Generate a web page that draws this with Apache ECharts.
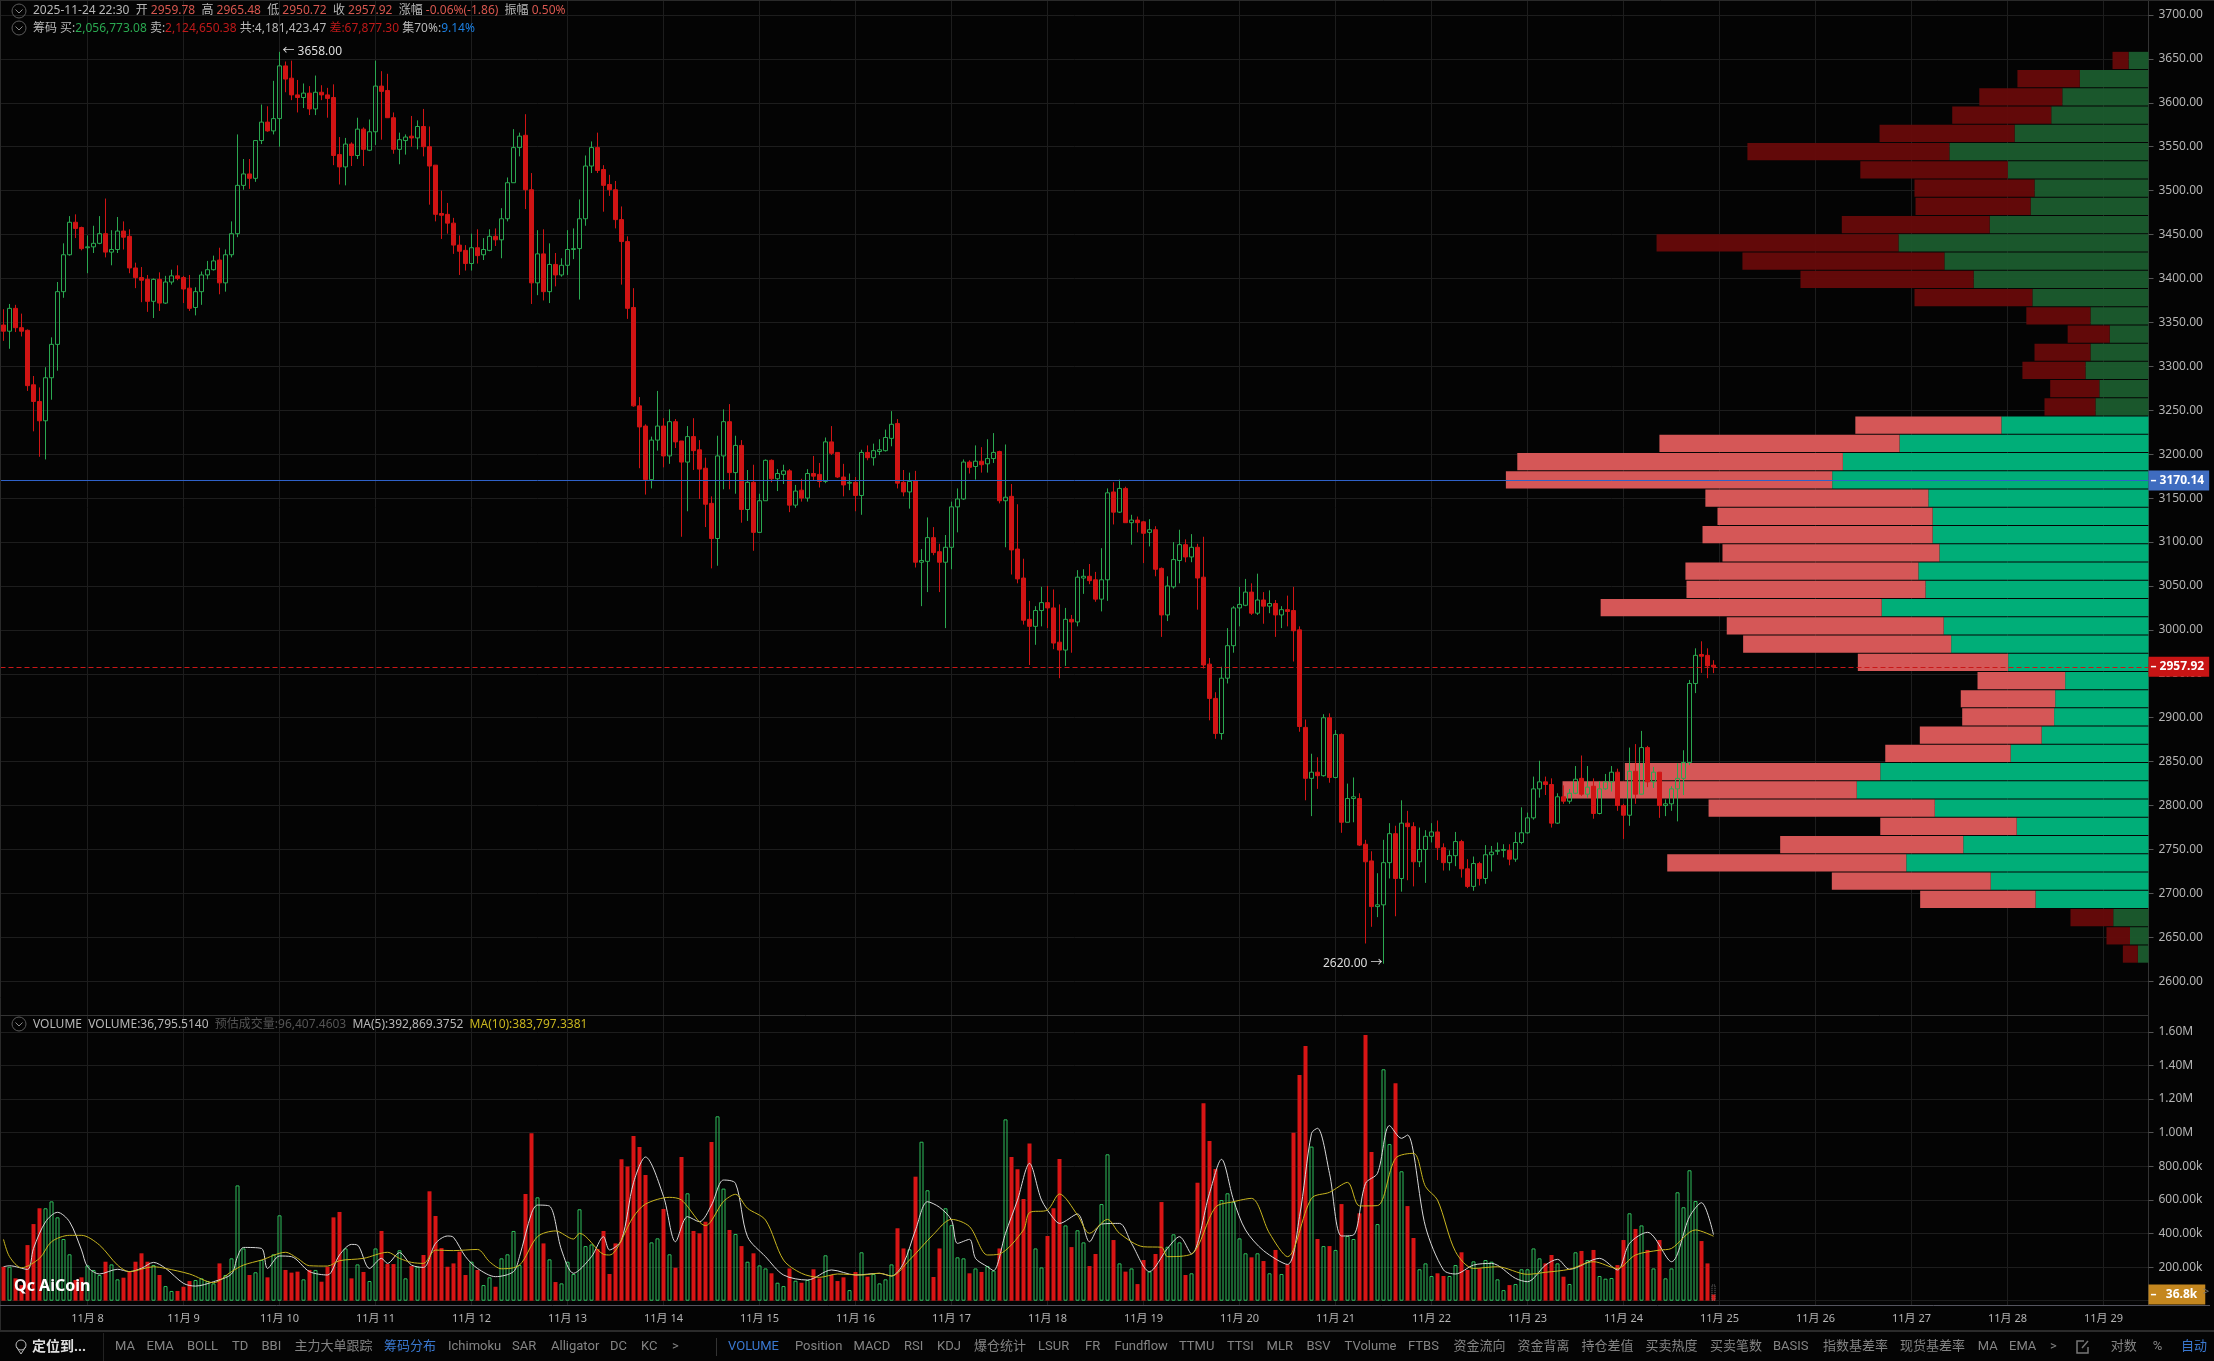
<!DOCTYPE HTML>
<html>
<head>
<meta charset="utf-8">
<title>AiCoin K线 筹码分布</title>
<script src="https://cdn.jsdelivr.net/npm/echarts@6/dist/echarts.min.js"></script>
<style>
    html, body { margin: 0; padding: 0; background: #040404; overflow: hidden; }
    #main { width: 2214px; height: 1361px; }
</style>
</head>
<body>
<div id="main"></div>
<script type="text/javascript">
// 1.5h candles, [open, close, low, high]
var candles = [
[3347,3340,3329,3365],[3340,3366,3320,3371],[3366,3344,3339,3370],[3344,3340,3334,3360],[3341,3278,3272,3342],
[3279,3260,3226,3289],[3260,3238,3197,3276],[3238,3287,3194,3299],[3287,3325,3262,3333],[3325,3385,3295,3396],
[3385,3427,3378,3440],[3427,3464,3426,3471],[3464,3457,3446,3473],[3458,3434,3432,3459],[3435,3436,3406,3449],
[3436,3440,3429,3460],[3440,3451,3439,3471],[3451,3430,3424,3491],[3430,3433,3415,3455],[3433,3454,3429,3470],
[3454,3447,3433,3465],[3448,3412,3406,3456],[3412,3401,3389,3418],[3401,3398,3373,3413],[3399,3374,3362,3404],
[3374,3399,3355,3400],[3399,3372,3363,3407],[3372,3396,3371,3403],[3396,3403,3393,3410],[3403,3400,3398,3415],
[3401,3388,3372,3403],[3389,3366,3363,3404],[3367,3385,3358,3390],[3385,3404,3370,3408],[3404,3410,3399,3420],
[3410,3420,3409,3426],[3421,3395,3382,3435],[3395,3427,3385,3433],[3427,3451,3424,3465],[3451,3506,3447,3564],
[3506,3519,3501,3536],[3519,3514,3502,3536],[3514,3557,3510,3557],[3557,3578,3553,3598],[3578,3568,3567,3596],
[3568,3582,3564,3625],[3582,3642,3550,3658],[3642,3627,3612,3647],[3628,3609,3603,3648],[3609,3606,3589,3626],
[3606,3611,3594,3622],[3611,3593,3586,3619],[3593,3612,3586,3631],[3612,3609,3603,3620],[3609,3605,3583,3617],
[3606,3540,3529,3621],[3541,3527,3507,3561],[3527,3553,3506,3560],[3553,3540,3528,3555],[3540,3570,3536,3583],
[3570,3547,3528,3572],[3546,3567,3545,3581],[3567,3619,3552,3648],[3619,3613,3558,3636],[3614,3583,3583,3633],
[3583,3547,3542,3589],[3547,3558,3530,3566],[3557,3561,3541,3564],[3562,3560,3550,3585],[3560,3573,3547,3580],
[3573,3550,3539,3593],[3550,3528,3484,3573],[3529,3473,3465,3529],[3474,3472,3445,3500],[3473,3463,3451,3486],
[3463,3438,3428,3469],[3438,3431,3404,3449],[3432,3417,3409,3438],[3417,3435,3409,3451],[3435,3426,3417,3456],
[3427,3433,3421,3446],[3432,3448,3431,3456],[3448,3444,3437,3457],[3444,3468,3423,3480],[3468,3509,3465,3515],
[3509,3549,3509,3570],[3549,3562,3539,3566],[3563,3501,3479,3587],[3501,3395,3371,3520],[3395,3428,3381,3455],
[3428,3385,3375,3456],[3385,3416,3372,3440],[3416,3404,3391,3429],[3404,3415,3402,3423],[3415,3433,3404,3455],
[3433,3434,3422,3457],[3434,3468,3376,3490],[3468,3528,3460,3540],[3528,3549,3520,3556],[3549,3523,3520,3566],
[3524,3506,3476,3529],[3507,3501,3494,3518],[3501,3467,3457,3511],[3467,3442,3393,3482],[3442,3366,3354,3448],
[3367,3255,3254,3389],[3255,3231,3184,3265],[3232,3171,3154,3234],[3171,3216,3161,3220],[3216,3232,3204,3272],
[3232,3198,3185,3241],[3198,3237,3189,3251],[3237,3214,3207,3240],[3215,3191,3106,3215],[3191,3220,3135,3232],
[3220,3204,3182,3241],[3205,3183,3149,3216],[3184,3143,3117,3196],[3144,3104,3070,3152],[3104,3198,3073,3221],
[3198,3237,3160,3251],[3237,3179,3160,3257],[3179,3210,3155,3221],[3210,3137,3122,3216],[3137,3168,3124,3182],
[3168,3111,3090,3188],[3111,3147,3111,3155],[3147,3193,3147,3194],[3193,3172,3168,3194],[3172,3178,3158,3183],
[3177,3181,3166,3188],[3181,3142,3134,3183],[3142,3158,3139,3165],[3159,3150,3146,3172],[3150,3178,3146,3183],
[3178,3175,3170,3198],[3177,3169,3162,3190],[3169,3214,3167,3219],[3214,3201,3199,3232],[3202,3174,3173,3202],
[3174,3165,3152,3189],[3167,3168,3159,3178],[3168,3153,3135,3174],[3153,3202,3131,3205],[3202,3196,3193,3210],
[3196,3204,3187,3212],[3203,3205,3199,3217],[3204,3219,3203,3228],[3218,3234,3209,3249],[3235,3167,3161,3240],
[3168,3157,3152,3182],[3157,3169,3138,3179],[3170,3077,3071,3181],[3077,3079,3027,3092],[3078,3105,3043,3128],
[3105,3088,3085,3117],[3089,3077,3043,3098],[3077,3094,3002,3108],[3094,3140,3069,3146],[3140,3149,3111,3161],
[3149,3191,3148,3194],[3191,3185,3178,3193],[3186,3192,3171,3210],[3192,3188,3179,3208],[3189,3195,3179,3217],
[3195,3202,3190,3224],[3203,3147,3144,3204],[3147,3151,3094,3211],[3152,3091,3063,3166],[3092,3058,3053,3143],
[3059,3011,3006,3081],[3012,3004,2960,3033],[3004,3022,2983,3027],[3022,3031,3004,3049],[3031,3025,3002,3050],
[3025,2985,2978,3046],[2986,2977,2945,3029],[2977,3012,2959,3025],[3012,3009,2974,3017],[3009,3060,3004,3068],
[3059,3061,3041,3069],[3061,3056,3052,3075],[3057,3035,3032,3066],[3035,3057,3021,3093],[3057,3156,3033,3161],
[3157,3134,3120,3168],[3134,3161,3133,3171],[3161,3122,3122,3163],[3122,3125,3097,3131],[3125,3122,3111,3129],
[3123,3110,3076,3124],[3111,3114,3095,3126],[3114,3069,3061,3118],[3070,3017,2992,3071],[3017,3050,3010,3061],
[3049,3080,3047,3100],[3079,3097,3053,3114],[3097,3083,3077,3103],[3083,3094,3077,3109],[3094,3059,3023,3098],
[3060,2960,2956,3106],[2961,2922,2897,2968],[2922,2882,2876,2929],[2882,2945,2875,2958],[2945,2982,2939,3002],
[2982,3025,2974,3027],[3025,3029,3004,3049],[3028,3043,3027,3058],[3043,3019,3017,3053],[3019,3034,3017,3064],
[3034,3027,3007,3043],[3027,3030,3019,3045],[3030,3017,2992,3034],[3017,3023,3002,3027],[3023,3021,3004,3039],
[3022,2999,2964,3049],[3000,2890,2884,3004],[2889,2831,2806,2898],[2831,2838,2788,2859],[2838,2834,2819,2855],
[2834,2900,2833,2904],[2900,2832,2826,2905],[2832,2881,2831,2886],[2881,2781,2769,2882],[2781,2808,2781,2825],
[2808,2810,2781,2832],[2808,2755,2754,2814],[2756,2736,2643,2761],[2737,2685,2662,2748],[2685,2687,2673,2723],
[2687,2735,2620,2761],[2735,2768,2717,2780],[2768,2717,2674,2777],[2717,2780,2702,2806],[2780,2776,2715,2794],
[2776,2736,2708,2781],[2736,2750,2730,2775],[2750,2765,2712,2772],[2765,2770,2758,2780],[2770,2752,2738,2783],
[2752,2735,2726,2757],[2735,2743,2726,2749],[2743,2759,2731,2770],[2759,2728,2718,2761],[2728,2708,2706,2739],
[2708,2734,2703,2742],[2734,2717,2709,2736],[2717,2744,2711,2755],[2744,2747,2725,2754],[2748,2749,2744,2758],
[2749,2750,2741,2756],[2749,2739,2732,2756],[2739,2758,2736,2770],[2758,2769,2756,2798],[2769,2786,2768,2792],
[2786,2819,2784,2833],[2819,2827,2809,2851],[2827,2824,2812,2833],[2824,2780,2775,2831],[2780,2810,2779,2814],
[2810,2805,2802,2823],[2805,2814,2802,2819],[2814,2830,2813,2845],[2831,2813,2811,2857],[2813,2821,2809,2845],
[2822,2791,2785,2831],[2791,2819,2790,2828],[2819,2827,2818,2836],[2827,2838,2816,2845],[2838,2800,2794,2842],
[2800,2789,2762,2802],[2789,2839,2777,2866],[2839,2813,2802,2870],[2813,2866,2813,2885],[2866,2827,2821,2868],
[2827,2838,2820,2844],[2838,2800,2786,2838],[2800,2802,2788,2807],[2802,2819,2794,2822],[2819,2831,2782,2848],
[2831,2849,2812,2863],[2849,2939,2846,2943],[2939,2971,2928,2979],[2972,2970,2951,2987],[2971,2959,2945,2979],
[2959.78,2957.92,2950.72,2965.48]
];

// volume per candle
var volumes = [
202000,202000,133000,93000,331000,456000,550000,550000,591000,496000,367000,276000,123000,139000,210000,183000,
153000,232000,216000,127000,137000,173000,232000,282000,232000,212000,153000,87000,58000,58000,83000,117000,
123000,133000,117000,103000,222000,153000,252000,686000,311000,153000,169000,242000,139000,276000,508000,183000,
167000,173000,127000,183000,183000,113000,202000,496000,528000,311000,133000,216000,171000,117000,311000,415000,
218000,218000,300000,133000,206000,202000,272000,651000,504000,313000,202000,222000,292000,153000,232000,183000,
93000,139000,83000,252000,276000,415000,212000,635000,996000,615000,341000,246000,111000,103000,232000,159000,
544000,325000,335000,308000,415000,159000,341000,841000,798000,980000,915000,748000,347000,371000,546000,276000,
196000,855000,639000,415000,401000,470000,944000,1097000,667000,421000,397000,325000,232000,282000,210000,192000,
163000,107000,87000,192000,119000,107000,123000,187000,133000,270000,153000,117000,139000,63000,171000,288000,
143000,159000,103000,127000,216000,431000,311000,306000,738000,946000,657000,141000,311000,550000,450000,258000,
252000,163000,192000,171000,206000,179000,311000,1079000,855000,782000,605000,936000,311000,198000,385000,550000,
843000,448000,319000,419000,347000,206000,278000,575000,871000,361000,222000,173000,192000,99000,242000,173000,
278000,587000,321000,395000,347000,153000,163000,702000,1175000,950000,784000,599000,639000,589000,371000,282000,
258000,282000,236000,163000,302000,159000,216000,1000000,1343000,1516000,917000,367000,325000,325000,302000,575000,
385000,367000,520000,1581000,885000,456000,1377000,932000,1294000,770000,563000,373000,187000,222000,147000,163000,
147000,147000,212000,288000,183000,234000,192000,242000,232000,127000,63000,93000,99000,187000,187000,311000,
252000,222000,272000,222000,143000,99000,288000,296000,242000,302000,147000,131000,135000,212000,361000,520000,
427000,448000,302000,192000,361000,133000,192000,645000,556000,776000,593000,355000,222000,36795.514
];
var estimatedVolume = 96407.4603;

// MA lines, [candle index, value], read at the turning points
var ma5Line = [
[0,202000],[1,208000],[4,186000],[5,311000],[7,469000],[9,526000],[11,470000],[13,302000],[14,202000],[16,159000],[19,187000],
[21,173000],[23,193000],[25,228000],[27,193000],[30,103000],[32,87000],[35,113000],[38,159000],[39,262000],[40,317000],[43,311000],
[44,192000],[46,266000],[48,262000],[51,173000],[54,153000],[56,272000],[58,335000],[59,331000],[61,192000],[63,252000],[64,222000],
[66,286000],[68,212000],[70,198000],[72,341000],[74,385000],[75,377000],[77,262000],[79,192000],[82,143000],[85,173000],[86,262000],
[88,520000],[89,569000],[91,563000],[93,302000],[95,163000],[98,262000],[100,381000],[101,302000],[103,361000],[105,702000],[107,855000],
[110,621000],[112,351000],[114,500000],[116,470000],[118,569000],[120,718000],[122,698000],[124,381000],[127,262000],[130,153000],
[134,123000],[138,183000],[142,153000],[146,163000],[148,147000],[150,222000],[152,421000],[154,589000],[156,556000],[158,480000],
[159,341000],[161,365000],[162,252000],[164,202000],[165,179000],[167,401000],[169,599000],[171,817000],[173,599000],[175,490000],
[176,460000],[179,516000],[181,351000],[183,456000],[186,460000],[188,341000],[191,173000],[194,311000],[196,381000],[198,278000],
[201,639000],[203,841000],[205,599000],[207,421000],[210,298000],[214,216000],[216,500000],[218,996000],[219,1026000],[221,758000],
[223,385000],[225,391000],[227,698000],[229,758000],[231,1042000],[233,966000],[234,986000],[237,440000],[240,183000],[242,159000],
[245,212000],[248,222000],[252,133000],[254,113000],[257,212000],[259,246000],[261,187000],[266,252000],[269,183000],[271,341000],
[274,407000],[278,232000],[281,500000],[283,583000],[285,392869]
];
var ma10Line = [
[0,365000],[1,262000],[3,196000],[6,252000],[8,351000],[11,389000],[13,389000],[16,331000],[19,212000],[21,173000],[25,202000],
[27,192000],[31,159000],[35,107000],[38,173000],[40,212000],[43,242000],[47,288000],[49,252000],[51,208000],[54,206000],[56,238000],
[60,252000],[64,288000],[66,252000],[68,228000],[70,222000],[72,301000],[75,298000],[79,305000],[81,232000],[83,190000],[86,212000],
[89,381000],[92,415000],[95,367000],[96,401000],[100,276000],[101,272000],[105,500000],[107,575000],[111,615000],[113,599000],
[117,447000],[120,590000],[122,633000],[124,550000],[127,480000],[130,242000],[133,163000],[136,139000],[139,159000],[143,153000],
[146,163000],[148,147000],[151,242000],[155,395000],[158,484000],[161,441000],[164,272000],[166,278000],[170,421000],[171,524000],
[174,540000],[176,635000],[179,510000],[181,401000],[184,484000],[186,401000],[190,321000],[193,318000],[194,262000],[198,278000],
[202,556000],[205,589000],[208,609000],[211,401000],[214,262000],[218,609000],[221,645000],[224,704000],[226,564000],[229,566000],
[232,847000],[235,877000],[237,679000],[239,599000],[242,292000],[245,192000],[249,202000],[254,157000],[257,169000],[261,187000],
[265,232000],[269,192000],[272,272000],[276,301000],[278,311000],[282,421000],[285,383797]
];

// chip distribution, lowest bin first, in thousands
var chipBuy = [
3.0,5.2,9.9,31.7,44.3,68.0,52.0,37.0,60.0,81.9,75.3,38.7,30.0,26.5,26.2,23.4,39.4,55.4,57.5,74.9,62.6,64.6,58.7,60.6,60.6,
61.8,88.8,85.8,69.9,41.3,14.9,13.8,17.7,16.3,10.9,16.3,32.6,49.1,57.3,70.2,44.6,33.1,32.0,39.5,55.9,37.6,27.3,24.2,19.3,5.6
];
var chipSell = [
4.2,6.6,12.0,32.4,44.6,67.1,51.4,38.3,63.5,82.6,71.7,35.2,34.2,25.8,26.5,24.6,42.2,58.4,60.9,78.9,67.1,65.4,60.9,64.6,60.4,
62.6,91.6,91.4,67.4,41.0,14.3,13.8,17.7,15.7,11.8,18.0,33.1,48.6,56.7,67.9,41.5,32.3,33.7,41.4,56.7,37.9,27.8,23.3,17.5,4.5
];
var chipLow = 2620;
var chipStep = 20.76;
var chipAreaFirst = 3;   // bins inside the 70% area are drawn bright
var chipAreaLast = 29;

var priceTicks = [2600,2650,2700,2750,2800,2850,2900,2950,3000,3050,3100,3150,3200,3250,3300,3350,3400,3450,3500,3550,3600,3650,3700];
var volumeTicks = [0,200000,400000,600000,800000,1000000,1200000,1400000,1600000];
var dayLabels = ['11月 8','11月 9','11月 10','11月 11','11月 12','11月 13','11月 14','11月 15','11月 16','11月 17','11月 18','11月 19',
    '11月 20','11月 21','11月 22','11月 23','11月 24','11月 25','11月 26','11月 27','11月 28','11月 29'];
var firstDaySlot = 14;
var slotsPerDay = 16;
var slotCount = 358;
var lastPrice = 2957.92;
var linePrice = 3170.14;

var indicators = ['MA','EMA','BOLL','TD','BBI','主力大单跟踪','筹码分布','Ichimoku','SAR','Alligator','DC','KC','>'];
var indicatorX = [115,146.5,187,232,261.5,294.6,384,448,512,551,610,641,672];
var subIndicators = ['VOLUME','Position','MACD','RSI','KDJ','爆仓统计','LSUR','FR','Fundflow','TTMU','TTSI','MLR','BSV','TVolume','FTBS',
    '资金流向','资金背离','持仓差值','买卖热度','买卖笔数','BASIS','指数基差率','现货基差率','MA','EMA','>','对数','%','自动'];
var subIndicatorX = [728,795,853.5,904,937,974,1038,1085,1114.6,1179,1227,1266.6,1306.5,1344.6,1408,1453.5,1517.5,1581.5,1645.4,1710,
    1773,1823,1900,1977.7,2009,2050,2110.7,2152.7,2181];

var fontName = '"Noto Sans", "Noto Sans CJK SC", sans-serif';
var toolFont = 'Roboto, "Noto Sans CJK SC", sans-serif';
var green = '#2aa850';
var gridColor = '#1d1d1d', tickColor = '#b4b4b4';

var categories = [];
for (var s = 0; s < slotCount; s++) {
    var day = (s - firstDaySlot) / slotsPerDay;
    categories.push(day >= 0 && day === Math.floor(day) && dayLabels[day] ? dayLabels[day] : 'slot' + s);
}
function isDaySlot(index) {
    return index >= firstDaySlot && (index - firstDaySlot) % slotsPerDay === 0;
}

var volumeBars = volumes.map(function (v, i) {
    var up = candles[i][1] >= candles[i][0];
    return {
        value: v,
        itemStyle: up ? {color: 'rgba(0,0,0,0)', borderColor: '#2fbf5d', borderWidth: 1} : {color: '#d81515', borderWidth: 0}
    };
});
var estimateBars = volumes.map(function (v, i) {
    return i === volumes.length - 1 ? estimatedVolume : null;
});

var chipRows = chipBuy.map(function (b, i) {
    return [chipLow + i * chipStep, chipLow + (i + 1) * chipStep, b, chipSell[i], i];
});

function renderChip(params, api) {
    var low = api.value(0), high = api.value(1), buy = api.value(2), sell = api.value(3), bin = api.value(4);
    var bright = bin >= chipAreaFirst && bin <= chipAreaLast;
    var pRight = api.coord([0, high]);
    var pBuy = api.coord([buy, low]);
    var pAll = api.coord([buy + sell, low]);
    var h = pBuy[1] - pRight[1] - 1;
    return {
        type: 'group',
        children: [
            {type: 'rect', shape: {x: pBuy[0], y: pRight[1], width: pRight[0] - pBuy[0], height: h},
                style: {fill: bright ? '#00ae78' : 'rgba(27,92,46,0.95)'}},
            {type: 'rect', shape: {x: pAll[0], y: pRight[1], width: pBuy[0] - pAll[0], height: h},
                style: {fill: bright ? '#d55757' : 'rgba(103,10,10,0.95)'}}
        ]
    };
}

function headerIcon(cx, cy) {
    return [
        {type: 'circle', shape: {cx: cx, cy: cy, r: 7}, style: {fill: 'none', stroke: '#5a5a5a', lineWidth: 1}, z: 10},
        {type: 'polyline', shape: {points: [[cx - 3.5, cy - 1.5], [cx, cy + 2], [cx + 3.5, cy - 1.5]]},
            style: {fill: 'none', stroke: '#8a8a8a', lineWidth: 1}, z: 10}
    ];
}
function richText(x, y, text) {
    return {
        type: 'text', x: x, y: y, z: 10,
        style: {
            text: text, fontFamily: fontName, fontSize: 12, fill: '#b8b8b8', verticalAlign: 'middle',
            rich: {
                w: {fill: '#b8b8b8', fontSize: 12, fontFamily: fontName},
                r: {fill: '#d8574f', fontSize: 12, fontFamily: fontName},
                d: {fill: '#bf1a1a', fontSize: 12, fontFamily: fontName},
                g: {fill: '#2aa850', fontSize: 12, fontFamily: fontName},
                b: {fill: '#1c7fe0', fontSize: 12, fontFamily: fontName},
                e: {fill: '#555555', fontSize: 12, fontFamily: fontName},
                y: {fill: '#c9b61f', fontSize: 12, fontFamily: fontName}
            }
        }
    };
}
function barText(x, text, fill, bold, size) {
    return {
        type: 'text', x: x, y: 1347, z: 10,
        style: {text: text, fontFamily: toolFont, fontSize: size || 13, fill: fill, verticalAlign: 'middle', fontWeight: bold ? 'bold' : 'normal'}
    };
}
function rule(x1, y1, x2, y2, color, width) {
    return {type: 'line', z: 9, shape: {x1: x1, y1: y1, x2: x2, y2: y2}, style: {stroke: color, lineWidth: width}};
}

var graphics = [
    rule(0, 0.5, 2214, 0.5, '#2a2a2a', 1),
    rule(0.5, 0, 0.5, 1330, '#2a2a2a', 1),
    rule(0, 1015.5, 2148, 1015.5, '#333333', 1),
    rule(0, 1305.5, 2210, 1305.5, '#55555f', 1),
    rule(0, 1331, 2214, 1331, '#2b2b2b', 2),
    rule(103.5, 1333, 103.5, 1361, '#222222', 1),
    rule(716.5, 1338, 716.5, 1356, '#333333', 1),
    // pin icon and popup icon of the tool row
    {type: 'circle', z: 10, shape: {cx: 21, cy: 1345, r: 5}, style: {fill: 'none', stroke: '#bbbbbb', lineWidth: 1}},
    {type: 'polyline', z: 10, shape: {points: [[16.5, 1347], [21, 1354], [25.5, 1347]]}, style: {fill: 'none', stroke: '#bbbbbb', lineWidth: 1}},
    {type: 'polyline', z: 10, shape: {points: [[2084, 1341], [2077, 1341], [2077, 1353], [2088, 1353], [2088, 1347]]}, style: {fill: 'none', stroke: '#777777', lineWidth: 1.5}},
    {type: 'line', z: 10, shape: {x1: 2082, y1: 1348, x2: 2088, y2: 1341}, style: {stroke: '#777777', lineWidth: 1.5}},
    {type: 'text', x: 14, y: 1286, z: 10, style: {text: 'Qc AiCoin', fontFamily: fontName, fontSize: 16, fontWeight: 'bold', fill: '#ffffff', verticalAlign: 'middle'}},
    richText(33, 11, '{w|2025-11-24 22:30  开 }{r|2959.78}{w|  高 }{r|2965.48}{w|  低 }{r|2950.72}{w|  收 }{r|2957.92}{w|  涨幅 }{r|-0.06%(-1.86)}{w|  振幅 }{r|0.50%}'),
    richText(33, 29, '{w|筹码 买:}{g|2,056,773.08}{w| 卖:}{d|2,124,650.38}{w| 共:4,181,423.47 }{d|差:67,877.30}{w| 集70%:}{b|9.14%}'),
    richText(33, 1025, '{w|VOLUME  VOLUME:36,795.5140  }{e|预估成交量:96,407.4603}{w|  MA(5):392,869.3752  }{y|MA(10):383,797.3381}'),
    barText(32, '定位到...', '#e0e0e0', true, 14),
    {type: 'text', x: 2203, y: 1292, z: 10, style: {text: '>', fontFamily: fontName, fontSize: 11, fill: '#777777', verticalAlign: 'middle'}}
].concat(headerIcon(19, 11), headerIcon(19, 28), headerIcon(19, 1024));

indicators.forEach(function (name, i) {
    graphics.push(barText(indicatorX[i], name, name === '筹码分布' ? '#3a78d0' : '#848484'));
});
subIndicators.forEach(function (name, i) {
    graphics.push(barText(subIndicatorX[i], name, name === 'VOLUME' || name === '自动' ? '#3a78d0' : '#848484'));
});

option = {
    backgroundColor: '#040404',
    animation: false,
    graphic: graphics,
    grid: [
        {left: 0.5, right: 65.5, top: 0, height: 1015},
        {left: 0.5, right: 65.5, top: 1015, height: 290}
    ],
    xAxis: [
        {
            type: 'category', gridIndex: 0, data: categories, boundaryGap: true,
            axisLine: {show: false}, axisTick: {show: false, alignWithLabel: true}, axisLabel: {show: false},
            splitLine: {show: true, alignWithLabel: true, interval: isDaySlot, lineStyle: {color: gridColor, width: 1}}
        },
        {
            type: 'category', gridIndex: 1, data: categories, boundaryGap: true,
            axisLine: {show: false}, axisTick: {show: false, alignWithLabel: true},
            axisLabel: {interval: isDaySlot, color: tickColor, fontFamily: fontName, fontSize: 11, margin: 8, hideOverlap: false},
            splitLine: {show: true, alignWithLabel: true, interval: isDaySlot, lineStyle: {color: gridColor, width: 1}}
        },
        {type: 'value', gridIndex: 0, inverse: true, min: 0, max: 603, show: false}
    ],
    yAxis: [
        {
            type: 'value', gridIndex: 0, position: 'right', min: 2561.6, max: 3717,
            axisLine: {show: true, lineStyle: {color: '#333333'}},
            axisTick: {show: true, length: 5, customValues: priceTicks, lineStyle: {color: '#555555'}},
            axisLabel: {
                customValues: priceTicks, color: tickColor, fontFamily: fontName, fontSize: 12, margin: 10,
                formatter: function (v) { return v.toFixed(2); }
            },
            splitLine: {show: true, lineStyle: {color: gridColor, width: 1}}
        },
        {
            type: 'value', gridIndex: 1, position: 'right', min: -25600, max: 1700000,
            axisLine: {show: true, lineStyle: {color: '#333333'}},
            axisTick: {show: true, length: 5, customValues: volumeTicks, lineStyle: {color: '#555555'}},
            axisLabel: {
                customValues: volumeTicks, color: tickColor, fontFamily: fontName, fontSize: 12, margin: 10,
                formatter: function (v) {
                    if (v === 0) return '';
                    return v >= 1000000 ? (v / 1000000).toFixed(2) + 'M' : (v / 1000).toFixed(2) + 'k';
                }
            },
            splitLine: {show: true, lineStyle: {color: gridColor, width: 1}}
        }
    ],
    series: [
        {
            type: 'custom', name: '筹码分布', xAxisIndex: 2, yAxisIndex: 0, z: 1, silent: true,
            data: chipRows, encode: {x: [2, 3], y: [0, 1]}, renderItem: renderChip, clip: false
        },
        {
            type: 'candlestick', name: 'K', xAxisIndex: 0, yAxisIndex: 0, z: 3, data: candles, barWidth: 4,
            itemStyle: {color: 'rgba(0,0,0,0)', color0: '#d01414', borderColor: green, borderColor0: '#d01414', borderWidth: 1},
            markPoint: {
                symbol: 'circle', symbolSize: 0, silent: true,
                data: [
                    {coord: [46, 3658], label: {show: true, position: 'right', distance: 3, formatter: '← 3658.00', color: '#dddddd', fontFamily: fontName, fontSize: 12}},
                    {coord: [230, 2620], label: {show: true, position: 'left', distance: 1, formatter: '2620.00 →', color: '#dddddd', fontFamily: fontName, fontSize: 12}}
                ]
            },
            markLine: {
                symbol: 'none', silent: true, animation: false,
                data: [
                    {
                        yAxis: lastPrice, lineStyle: {color: '#c81818', type: [5, 3], width: 1},
                        label: {position: 'end', distance: 0, formatter: '– 2957.92', color: '#ffffff', fontFamily: fontName, fontSize: 12, fontWeight: 'bold', backgroundColor: '#c81414', padding: [4, 5, 4, 2]}
                    },
                    {
                        yAxis: linePrice, lineStyle: {color: '#2f62c8', type: 'solid', width: 1},
                        label: {position: 'end', distance: 0, formatter: '– 3170.14', color: '#ffffff', fontFamily: fontName, fontSize: 12, fontWeight: 'bold', backgroundColor: '#3f6cc0', padding: [4, 5, 4, 2]}
                    }
                ]
            }
        },
        {
            type: 'bar', name: 'VOLUME', xAxisIndex: 1, yAxisIndex: 1, z: 2, barWidth: 4, data: volumeBars,
            markLine: {
                symbol: 'none', silent: true, animation: false,
                data: [{
                    yAxis: volumes[volumes.length - 1], lineStyle: {color: 'rgba(0,0,0,0)', width: 1},
                    label: {position: 'end', distance: 0, formatter: '–   36.8k', color: '#ffffff', fontFamily: fontName, fontSize: 12, fontWeight: 'bold', backgroundColor: '#c4871f', padding: [4, 8, 4, 2]}
                }]
            }
        },
        {
            type: 'bar', name: '预估成交量', xAxisIndex: 1, yAxisIndex: 1, z: 2, barWidth: 4, barGap: '-100%', data: estimateBars,
            itemStyle: {color: 'rgba(0,0,0,0)', borderColor: '#777777', borderWidth: 1, borderType: 'dotted'}
        },
        {
            type: 'line', name: 'MA(5)', xAxisIndex: 1, yAxisIndex: 1, z: 4, data: ma5Line, smooth: 0.3, showSymbol: false,
            lineStyle: {color: '#d8d8d8', width: 1}
        },
        {
            type: 'line', name: 'MA(10)', xAxisIndex: 1, yAxisIndex: 1, z: 4, data: ma10Line, smooth: 0.3, showSymbol: false,
            lineStyle: {color: '#c9b61f', width: 1}
        }
    ]
};

var myChart = echarts.init(document.getElementById('main'));
myChart.setOption(option);
</script>
</body>
</html>
